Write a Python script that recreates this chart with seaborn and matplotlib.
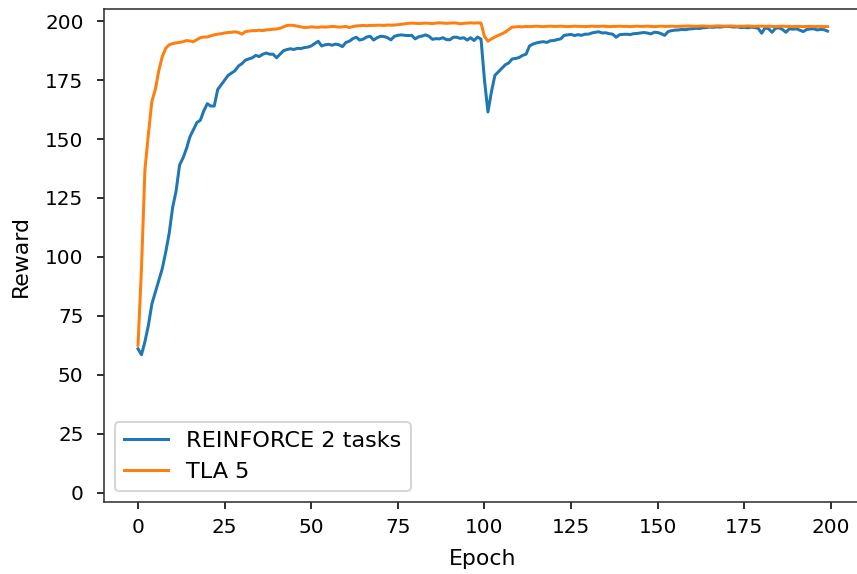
import numpy as np
import pandas as pd
import matplotlib
matplotlib.use("Agg")
import matplotlib.pyplot as plt
import seaborn as sns

# Mean episode reward per training epoch
epochs = list(range(200))

reinforce_2_tasks = [
    61.0, 58.5, 64.0, 71.0, 80.0, 85.0, 90.0, 95.0, 102.0, 110.0,
    121.0, 128.0, 139.0, 142.0, 146.0, 151.0, 154.0, 157.0, 158.0, 162.0,
    165.0, 164.0, 164.0, 171.0, 173.0, 175.0, 177.0, 178.0, 179.0, 181.0,
    182.0, 183.5, 184.0, 184.5, 185.5, 185.0, 186.0, 186.5, 186.0, 186.0,
    184.5, 186.0, 187.5, 188.0, 188.3, 188.0, 188.5, 188.4, 188.8, 189.0,
    189.5, 190.5, 191.5, 189.5, 190.0, 190.2, 189.8, 190.3, 190.0, 189.2,
    191.0, 191.5, 192.6, 193.2, 192.0, 192.4, 193.3, 193.6, 192.0, 193.0,
    193.6, 193.5, 193.0, 192.1, 193.6, 194.0, 194.2, 194.0, 193.9, 194.0,
    192.5, 193.4, 193.7, 194.2, 193.6, 192.3, 192.6, 192.5, 193.0, 192.2,
    192.1, 193.2, 193.2, 192.7, 193.0, 192.0, 193.0, 191.8, 193.3, 192.4,
    175.0, 161.5, 170.0, 177.0, 178.5, 180.0, 181.5, 182.3, 184.0, 184.2,
    184.6, 185.5, 186.0, 189.5, 190.3, 190.8, 191.1, 191.3, 191.0, 191.7,
    191.8, 192.2, 192.5, 194.0, 194.2, 194.4, 193.9, 194.3, 194.0, 194.5,
    194.5, 195.0, 195.3, 195.5, 195.0, 195.1, 194.7, 194.5, 193.2, 194.3,
    194.4, 194.5, 194.3, 194.7, 194.8, 195.0, 195.2, 195.0, 194.6, 195.3,
    195.2, 194.7, 194.0, 195.6, 196.0, 196.2, 196.3, 196.5, 196.4, 196.7,
    196.8, 197.0, 196.9, 197.2, 197.3, 197.5, 197.4, 197.6, 197.5, 197.7,
    197.8, 197.7, 197.5, 197.6, 197.3, 197.4, 197.2, 197.5, 197.3, 197.0,
    194.9, 197.2, 196.8, 195.3, 197.0, 197.2, 196.5, 195.3, 196.8, 196.6,
    196.8, 196.2, 195.6, 196.5, 196.7, 196.8, 196.3, 196.5, 196.4, 195.8,
]

tla_5 = [
    62.5, 95.0, 137.0, 152.0, 166.0, 171.0, 179.0, 185.0, 188.5, 190.0,
    190.5, 190.8, 191.0, 191.3, 191.8, 191.6, 191.3, 192.2, 193.0, 193.3,
    193.3, 193.8, 194.2, 194.5, 194.7, 195.0, 195.2, 195.3, 195.5, 195.2,
    194.5, 195.6, 195.8, 196.0, 196.0, 196.2, 196.0, 196.3, 196.4, 196.6,
    196.7, 197.0, 197.6, 198.2, 198.3, 198.2, 197.9, 197.6, 197.3, 197.4,
    197.6, 197.5, 197.4, 197.6, 197.5, 197.6, 197.8, 197.7, 197.5, 197.6,
    197.8, 197.3, 197.7, 198.0, 198.1, 198.2, 198.1, 198.2, 198.2, 198.3,
    198.3, 198.2, 198.4, 198.3, 198.4, 198.5, 198.7, 198.9, 199.1, 199.2,
    199.1, 199.0, 199.1, 199.2, 199.1, 199.0, 199.2, 199.3, 199.2, 199.1,
    199.2, 199.3, 199.2, 198.9, 199.1, 199.2, 199.3, 199.2, 199.3, 199.2,
    193.5, 191.5, 192.5, 193.3, 194.0, 194.6, 195.4, 196.5, 197.5, 197.6,
    197.7, 197.6, 197.8, 197.7, 197.8, 197.9, 197.8, 197.7, 197.8, 197.9,
    197.8, 197.8, 197.9, 197.8, 197.7, 197.8, 197.9, 197.8, 197.8, 197.7,
    197.8, 197.9, 197.8, 197.8, 197.9, 197.8, 197.7, 197.8, 197.8, 197.9,
    197.8, 197.8, 197.7, 197.8, 197.9, 197.8, 197.8, 197.9, 197.8, 197.7,
    197.8, 197.9, 197.8, 197.8, 197.9, 197.8, 197.8, 197.9, 197.9, 198.0,
    197.9, 197.8, 197.9, 198.0, 197.9, 197.8, 197.9, 198.0, 198.0, 197.9,
    197.9, 198.0, 197.9, 197.8, 197.9, 197.9, 198.0, 197.9, 197.8, 197.9,
    197.9, 197.8, 197.9, 197.8, 197.7, 197.8, 197.9, 197.8, 197.8, 197.7,
    197.8, 197.8, 197.7, 197.8, 197.8, 197.7, 197.8, 197.8, 197.7, 197.7,
]

series_labels = ["REINFORCE 2 tasks", "TLA 5"]

df = pd.DataFrame({
    "Epoch": epochs * 2,
    "Reward": reinforce_2_tasks + tla_5,
    "Method": [series_labels[0]] * len(epochs) + [series_labels[1]] * len(epochs),
})

fig = plt.figure(figsize=(857 / 144, 574 / 144), dpi=144)
ax = fig.add_axes([0.1208, 0.1246, 0.885, 0.8598])

sns.lineplot(
    data=df, x="Epoch", y="Reward", hue="Method", hue_order=series_labels,
    palette=["#1f77b4", "#ff7f0e"], linewidth=1.5, ax=ax,
)

ax.set_xlim(-9.95, 208.95)
ax.set_ylim(-4.2, 205.2)
ax.set_xticks(range(0, 201, 25))
ax.set_yticks(range(0, 201, 25))
ax.tick_params(axis="x", labelsize=10, pad=4.5)
ax.tick_params(axis="y", labelsize=10, pad=6.5)
ax.set_xlabel("Epoch", fontsize=11, labelpad=6)
ax.set_ylabel("Reward", fontsize=11, labelpad=7)
for spine in ax.spines.values():
    spine.set_color("#333333")

handles, labels = ax.get_legend_handles_labels()
ax.legend(handles, labels, loc="lower left", title=None, fontsize=11.2)

fig.savefig("out.png", dpi=144)
